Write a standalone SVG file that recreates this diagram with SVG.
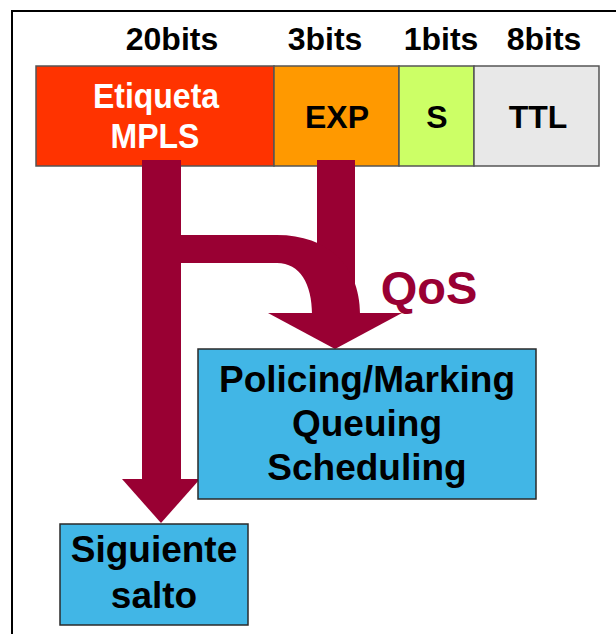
<svg xmlns="http://www.w3.org/2000/svg" width="616" height="634" viewBox="0 0 616 634">
<style>
  text { font-family: "Liberation Sans", Arial, sans-serif; font-weight: bold; text-anchor: middle; }
  .hdr { font-size: 32px; fill: #000; }
  .cell { stroke: #555; stroke-width: 1.5; }
  .box { fill: #41B6E6; stroke: #2a2a2a; stroke-width: 1.5; }
  .boxt { font-size: 37px; fill: #000; }
  .arrow { fill: #990033; stroke: none; }
</style>
<rect x="0" y="0" width="616" height="634" fill="#fff"/>
<path d="M12,634 L12,11 L616,11" fill="none" stroke="#000" stroke-width="2"/>
<g id="bit-labels">
  <text class="hdr" x="172" y="50">20bits</text>
  <text class="hdr" x="325" y="50">3bits</text>
  <text class="hdr" x="441" y="50">1bits</text>
  <text class="hdr" x="544" y="50">8bits</text>
</g>
<g id="etiqueta">
  <rect class="cell" x="36" y="66" width="238" height="100" fill="#FF3300"/>
  <text class="hdr" fill="#fff" style="fill:#fff" transform="translate(156,108) scale(1,1.1)">Etiqueta</text>
  <text class="hdr" style="fill:#fff" transform="translate(155,148) scale(1,1.1)">MPLS</text>
</g>
<g id="exp">
  <rect class="cell" x="274" y="66" width="125" height="100" fill="#FF9900"/>
  <text class="hdr" x="337" y="128">EXP</text>
</g>
<g id="s">
  <rect class="cell" x="399" y="66" width="75" height="100" fill="#CCFF66"/>
  <text class="hdr" x="437" y="128">S</text>
</g>
<g id="ttl">
  <rect class="cell" x="474" y="66" width="125" height="100" fill="#E8E8E8"/>
  <text class="hdr" x="538" y="128">TTL</text>
</g>
<g id="connectors">
  <rect class="arrow" x="142" y="160" width="39" height="320"/>
  <polygon class="arrow" points="122,479 200,479 161,523"/>
  <rect class="arrow" x="317" y="160" width="38" height="154"/>
  <path class="arrow" d="M181,235 L277,235 C330,235 360,268 360,314 L312,314 C312,284 300,263 277,263 L181,263 Z"/>
  <polygon class="arrow" points="268,313 402,313 335,349"/>
  <text x="429" y="304" style="font-size:47px;fill:#990033">QoS</text>
</g>
<g id="policing">
  <rect class="box" x="198" y="349" width="338" height="150"/>
  <text class="boxt" x="367" y="392">Policing/Marking</text>
  <text class="boxt" x="367" y="436">Queuing</text>
  <text class="boxt" x="367" y="480">Scheduling</text>
</g>
<g id="siguiente">
  <rect class="box" x="60" y="524" width="188" height="101"/>
  <text class="boxt" x="154" y="562">Siguiente</text>
  <text class="boxt" x="154" y="608">salto</text>
</g>
</svg>
